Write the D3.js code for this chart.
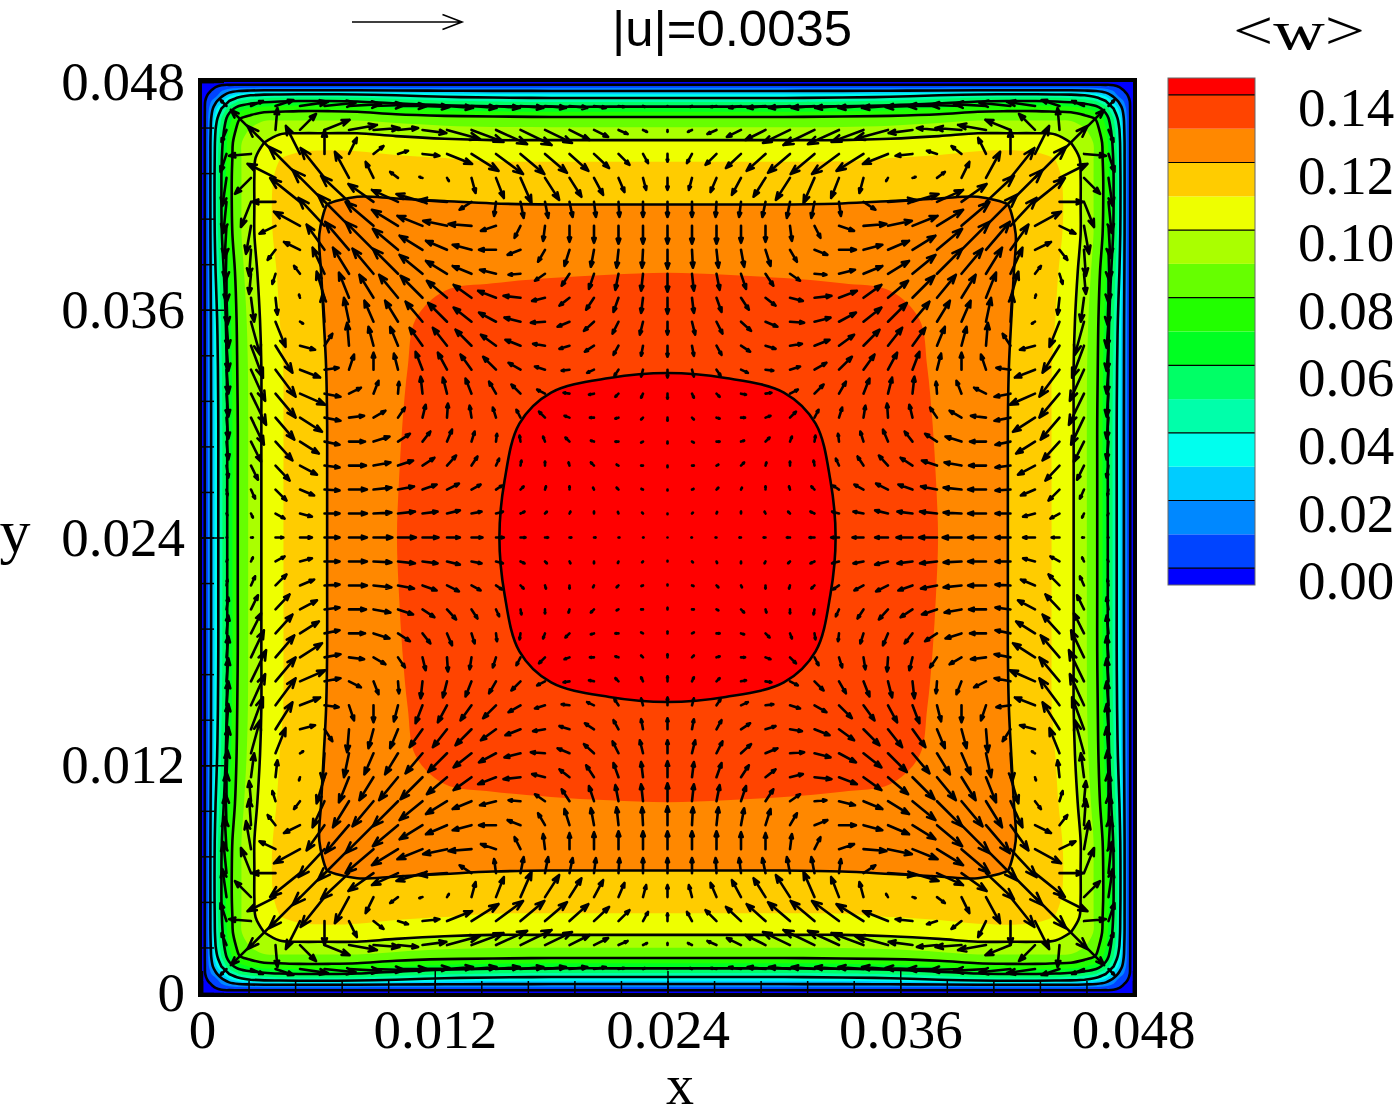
<!DOCTYPE html>
<html>
<head>
<meta charset="utf-8">
<script src="https://d3js.org/d3.v7.min.js"></script>
<style>
    body { margin: 0; background: #fff; }
    svg { display: block; }
    .tick text { font-family: "Liberation Serif", "DejaVu Serif", serif; }
</style>
</head>
<body>
<svg width="1400" height="1120"></svg>
<script>

// contour mesh nodes: distance from a wall in mm (half of the 48 mm duct)
var nodesMm = [0, 0.15, 0.4, 0.7, 1.0, 1.4, 1.9, 2.5, 3.2, 4.0, 5.0, 6.5, 8.0, 10, 12.5, 15, 18, 21, 24];

// <w>, one octant of the duct:
// row j -> distance nodesMm[j] from one wall, entry i -> distance nodesMm[i] from the other (i <= j)
var wRows = [
    [0],
    [0, 0.0003],
    [0, 0.0013, 0.0035],
    [0, 0.0032, 0.007, 0.011],
    [0, 0.0045, 0.012, 0.022, 0.032],
    [0, 0.0050, 0.017, 0.032, 0.045, 0.060],
    [0, 0.0052, 0.020, 0.040, 0.055, 0.070, 0.084],
    [0, 0.0052, 0.021, 0.045, 0.059, 0.076, 0.089, 0.096],
    [0, 0.0052, 0.022, 0.048, 0.062, 0.080, 0.093, 0.101, 0.105],
    [0, 0.0052, 0.022, 0.049, 0.064, 0.081, 0.093, 0.102, 0.110, 0.1148],
    [0, 0.0052, 0.022, 0.050, 0.065, 0.082, 0.093, 0.102, 0.1125, 0.1165, 0.1205],
    [0, 0.0052, 0.022, 0.050, 0.065, 0.082, 0.093, 0.102, 0.1125, 0.1175, 0.1215, 0.1252],
    [0, 0.0052, 0.022, 0.049, 0.064, 0.081, 0.093, 0.102, 0.1125, 0.1170, 0.1215, 0.1265, 0.1285],
    [0, 0.0052, 0.0215, 0.045, 0.060, 0.076, 0.091, 0.100, 0.110, 0.1162, 0.1212, 0.1262, 0.1292, 0.1325],
    [0, 0.0052, 0.021, 0.041, 0.056, 0.072, 0.089, 0.098, 0.108, 0.1150, 0.1205, 0.1258, 0.1293, 0.1335, 0.1372],
    [0, 0.0052, 0.021, 0.039, 0.054, 0.070, 0.088, 0.097, 0.107, 0.1140, 0.1195, 0.1254, 0.1294, 0.1340, 0.1381, 0.1415],
    [0, 0.0052, 0.021, 0.038, 0.053, 0.069, 0.087, 0.097, 0.107, 0.1140, 0.1190, 0.1252, 0.1296, 0.1344, 0.1389, 0.1440, 0.1462],
    [0, 0.0052, 0.021, 0.038, 0.053, 0.069, 0.087, 0.097, 0.107, 0.1140, 0.1190, 0.1252, 0.1297, 0.1347, 0.1395, 0.1444, 0.1474, 0.1497],
    [0, 0.0052, 0.021, 0.038, 0.053, 0.069, 0.087, 0.097, 0.107, 0.1140, 0.1190, 0.1252, 0.1298, 0.1349, 0.1398, 0.1446, 0.1482, 0.1505, 0.1515]
];

// secondary velocity (units of 1e-4 m/s) on the 39x39 vector mesh, octant next to the top wall
// of the upper-left quarter: row r = 1..19 from the wall, entries for columns c = r..19,
// each [along the wall (to the right), toward the core (downward)]
var vecRows = [
    [[-1.9,-1.9],[3.8,-1.6],[5.7,-1.9],[8.9,-1.3],[9.9,-1.0],[10.2,-0.6],[9.9,-0.3],[9.2,0],[8.6,0.3],[8.3,0.6],[8.0,0.6],[7.6,0.6],[7.3,0.6],[6.7,0.6],[5.7,0.6],[3.8,0.6],[1.9,0.3],[0.6,0.3],[0,0.2]],
    [[-6.4,-6.4],[0.6,-7.0],[5.1,-5.1],[8.0,-3.2],[8.9,-1.6],[8.3,-0.6],[6.4,-0.6],[7.6,1.0],[10.5,2.9],[10.2,3.8],[9.9,4.5],[9.9,4.8],[8.6,4.1],[6.4,3.2],[4.5,2.2],[2.9,1.3],[1.3,0.6],[0,0.6]],
    [[-8.9,-8.9],[-4.5,-8.9],[0,-7.6],[2.5,-5.1],[3.2,-2.5],[3.2,-1.0],[5.4,0.6],[8.0,3.2],[8.6,5.4],[8.6,6.4],[7.6,6.4],[7.0,6.0],[6.0,5.4],[4.8,4.5],[3.5,3.5],[1.6,2.9],[0,2.5]],
    [[-9.9,-9.9],[-7.6,-9.5],[-4.5,-8.3],[-2.5,-5.1],[-2.5,-1.9],[-1.0,-0.3],[0.6,1.0],[1.3,4.8],[2.5,6.4],[3.5,8.0],[4.5,7.0],[3.8,6.0],[2.9,5.4],[1.9,4.5],[1.0,3.8],[0,3.8]],
    [[-10.2,-10.2],[-8.9,-8.3],[-8.0,-5.7],[-8.3,-3.8],[-8.3,-2.5],[-8.9,-0.6],[-3.8,2.5],[-0.6,4.5],[1.0,5.1],[1.0,5.1],[1.0,4.8],[0.6,4.8],[0.3,4.8],[0,4.8],[0,4.8]],
    [[-9.9,-9.9],[-8.9,-7.6],[-8.3,-5.1],[-8.0,-3.2],[-7.6,-1.6],[-7.3,-0.6],[-4.8,1.6],[-1.9,3.8],[-0.6,4.8],[0,5.1],[0,5.4],[0,5.7],[0,5.7],[0,5.7]],
    [[-8.9,-8.9],[-8.0,-6.7],[-7.3,-4.5],[-6.7,-2.9],[-6.0,-1.6],[-5.4,0],[-4.1,1.6],[-2.2,3.8],[-1.6,5.1],[-1.0,5.4],[-0.6,5.7],[-0.3,5.7],[0,6.0]],
    [[-8.0,-8.0],[-7.3,-6.0],[-6.7,-4.1],[-6.0,-2.5],[-5.1,-1.3],[-3.8,0.3],[-3.2,2.2],[-2.5,3.8],[-1.6,4.8],[-1.0,5.1],[-0.6,5.4],[0,5.7]],
    [[-7.0,-7.0],[-6.4,-5.4],[-5.7,-4.1],[-5.7,-2.2],[-5.4,-0.6],[-4.1,1.0],[-3.2,2.5],[-2.5,3.8],[-1.6,4.5],[-0.6,4.8],[0,5.1]],
    [[-6.0,-6.0],[-5.7,-4.5],[-5.4,-2.9],[-5.1,-1.3],[-4.5,0.3],[-3.8,1.6],[-3.2,2.9],[-1.9,3.8],[-1.0,4.1],[0,4.1]],
    [[-5.1,-5.1],[-4.8,-3.5],[-4.8,-1.9],[-3.8,-0.6],[-3.2,1.0],[-2.9,1.9],[-1.6,2.9],[-0.6,3.2],[0,3.5]],
    [[-4.1,-4.1],[-3.8,-2.2],[-3.2,-1.0],[-2.5,0.3],[-2.2,1.0],[-1.3,1.9],[-0.6,2.2],[0,2.5]],
    [[-2.9,-2.9],[-2.5,-1.3],[-1.9,-0.3],[-1.6,0.3],[-1.0,1.0],[-0.6,1.3],[0,1.6]],
    [[-1.9,-1.9],[-1.6,-0.6],[-1.3,0],[-1.0,0.3],[-0.6,0.6],[0,1.0]],
    [[-1.3,-1.3],[-1.0,-0.3],[-1.0,0],[-0.6,0.3],[0,0.6]],
    [[-1.0,-1.0],[-0.6,-0.3],[-0.6,0],[0,0.5]],
    [[-0.6,-0.6],[-0.5,-0.2],[0,0.3]],
    [[-0.3,-0.3],[0,0.2]],
    [[0,0]]
];

var levels = [0.005, 0.015, 0.025, 0.035, 0.045, 0.055, 0.065, 0.075, 0.085, 0.095, 0.105, 0.115, 0.125, 0.135, 0.145];
var lineLevels = [0.005, 0.025, 0.045, 0.065, 0.085, 0.105, 0.125, 0.145];
var legendValues = [0, 0.02, 0.04, 0.06, 0.08, 0.10, 0.12, 0.14];
var axisTicks = [0, 0.012, 0.024, 0.036, 0.048];
var refSpeed = 0.0035;

var bandColors = ["#0000ff", "#0044ff", "#0088ff", "#00ccff", "#00ffee", "#00ffaa", "#00ff66", "#00ff22",
                  "#22ff00", "#66ff00", "#aaff00", "#eeff00", "#ffcc00", "#ff8800", "#ff4400", "#ff0000"];

var svg = d3.select("svg");
var serif = '"Liberation Serif", "DejaVu Serif", serif';

var W = 0.048;
var x = d3.scaleLinear().domain([0, W]).range([202, 1133]);
var y = d3.scaleLinear().domain([0, W]).range([993, 82]);

svg.append("clipPath").attr("id", "plotClip")
    .append("rect").attr("x", 202).attr("y", 82).attr("width", 931).attr("height", 911);

var field = svg.append("g").attr("clip-path", "url(#plotClip)");

field.append("rect")
    .attr("x", 202).attr("y", 82).attr("width", 931).attr("height", 911)
    .attr("fill", bandColors[0]);

//
// contour field on the non-uniform mesh
//

var half = nodesMm.length - 1;
var nodes = nodesMm.concat(nodesMm.slice(0, half).reverse().map(d => 48 - d)).map(d => d / 1000);
var n = nodes.length;

var values = new Array(n * n);
for (var iy = 0; iy < n; iy++) {
    for (var ix = 0; ix < n; ix++) {
        var a = Math.min(ix, n - 1 - ix), b = Math.min(iy, n - 1 - iy);
        values[iy * n + ix] = wRows[Math.max(a, b)][Math.min(a, b)];
    }
}

var nodeScale = d3.scaleLinear().domain(d3.range(n)).range(nodes).clamp(true);

var contours = d3.contours().size([n, n]).thresholds(levels)(values);

var ringLine = d3.line().curve(d3.curveCatmullRomClosed.alpha(0.5));

function ringPath(ring) {
    var pts = ring.slice(0, -1).map(p => [x(nodeScale(p[0] - 0.5)), y(nodeScale(p[1] - 0.5))]);
    return ringLine(pts);
}

function multiPath(c) {
    return c.coordinates.map(poly => poly.map(ringPath).join("")).join("");
}

field.selectAll(".band")
    .data(contours)
    .enter().append("path")
    .attr("class", "band")
    .attr("d", multiPath)
    .attr("fill", (d, i) => bandColors[i + 1]);

field.selectAll(".cline")
    .data(contours.filter(c => lineLevels.some(l => Math.abs(l - c.value) < 1e-9)))
    .enter().append("path")
    .attr("class", "cline")
    .attr("d", multiPath)
    .attr("fill", "none")
    .attr("stroke", "#000")
    .attr("stroke-width", 2.6);

//
// secondary flow vectors
//

var nv = 39, mid = 19;
var pxPerSpeed = 110 / refSpeed;
var arrows = [];
for (var i = 0; i < nv; i++) {
    for (var k = 0; k < nv; k++) {
        var c = Math.min(i, nv - 1 - i), r = Math.min(k, nv - 1 - k);
        if (c === 0 || r === 0) continue;
        var e, dx, dy;
        if (r <= c) { e = vecRows[r - 1][c - r]; dx = e[0]; dy = e[1]; }
        else { e = vecRows[c - 1][r - c]; dx = e[1]; dy = e[0]; }
        if (i > mid) dx = -dx;
        if (k > mid) dy = -dy;
        arrows.push({
            x0: x(i * W / (nv - 1)),
            y0: y(W - k * W / (nv - 1)),
            dx: dx * 1e-4 * pxPerSpeed,
            dy: dy * 1e-4 * pxPerSpeed
        });
    }
}

function arrowPath(x0, y0, dx, dy, frac, ang) {
    var x1 = x0 + dx, y1 = y0 + dy;
    var L = Math.sqrt(dx * dx + dy * dy);
    if (L < 0.01) return "M" + x0 + "," + y0 + "L" + x0 + "," + y0;
    var t = Math.atan2(dy, dx), h = L * frac;
    var ax = x1 - h * Math.cos(t - ang), ay = y1 - h * Math.sin(t - ang);
    var bx = x1 - h * Math.cos(t + ang), by = y1 - h * Math.sin(t + ang);
    return "M" + x0 + "," + y0 + "L" + x1 + "," + y1 +
        "M" + ax + "," + ay + "L" + x1 + "," + y1 + "L" + bx + "," + by;
}

field.append("g")
    .selectAll("path")
    .data(arrows)
    .enter().append("path")
    .attr("d", d => arrowPath(d.x0, d.y0, d.dx, d.dy, 0.3, 20 * Math.PI / 180))
    .attr("fill", "none")
    .attr("stroke", "#000")
    .attr("stroke-width", 2.6)
    .attr("stroke-linecap", "round")
    .attr("stroke-linejoin", "round");

//
// axes with inward ticks
//

var minorTicks = d3.range(0, 0.04801, 0.0024);
var fmt = d => d === 0 ? "0" : d3.format(".3f")(d);

function styleAxis(g) {
    g.select(".domain").remove();
    g.selectAll(".tick line").attr("stroke", "#000").attr("stroke-width", 1.5);
    g.selectAll(".tick text").attr("fill", "#000").style("font-size", "55px");
}

svg.append("g").attr("transform", "translate(0,993)")
    .call(d3.axisBottom(x).tickValues(minorTicks).tickSize(-12).tickFormat(""))
    .call(styleAxis);
svg.append("g").attr("transform", "translate(202,0)")
    .call(d3.axisLeft(y).tickValues(minorTicks).tickSize(-12).tickFormat(""))
    .call(styleAxis);

svg.append("g").attr("transform", "translate(0,993)")
    .call(d3.axisBottom(x).tickValues(axisTicks).tickSize(-22).tickPadding(16).tickFormat(fmt))
    .call(styleAxis);
svg.append("g").attr("transform", "translate(202,0)")
    .call(d3.axisLeft(y).tickValues(axisTicks).tickSize(-22).tickPadding(17).tickFormat(fmt))
    .call(styleAxis);

// frame
svg.append("rect")
    .attr("x", 200).attr("y", 80).attr("width", 935).attr("height", 915)
    .attr("fill", "none").attr("stroke", "#000").attr("stroke-width", 4);

svg.append("text").attr("x", 680).attr("y", 1104)
    .attr("text-anchor", "middle").style("font-family", serif).style("font-size", "56px")
    .text("x");
svg.append("text").attr("x", 15).attr("y", 552)
    .attr("text-anchor", "middle").style("font-family", serif).style("font-size", "62px")
    .text("y");

//
// reference vector
//

svg.append("path")
    .attr("d", arrowPath(352, 22, refSpeed * pxPerSpeed, 0, 0.19, 21 * Math.PI / 180))
    .attr("fill", "none").attr("stroke", "#000").attr("stroke-width", 1.6);

svg.append("text").attr("x", 612).attr("y", 46)
    .attr("textLength", 240).attr("lengthAdjust", "spacingAndGlyphs")
    .style("font-family", '"Liberation Sans", Arial, sans-serif').style("font-size", "50px")
    .text("|u|=0.0035");

//
// legend
//

var cb = d3.scaleLinear().domain([0, 0.15]).range([585, 78]);
var legend = svg.append("g");

legend.selectAll(".lb")
    .data(bandColors)
    .enter().append("rect")
    .attr("class", "lb")
    .attr("x", 1168).attr("width", 87)
    .attr("y", (d, k) => cb(Math.min(0.15, 0.01 * k + 0.005)))
    .attr("height", (d, k) => cb(Math.max(0, 0.01 * k - 0.005)) - cb(Math.min(0.15, 0.01 * k + 0.005)))
    .attr("fill", d => d);

legend.selectAll(".ll")
    .data(lineLevels)
    .enter().append("line")
    .attr("x1", 1168).attr("x2", 1255)
    .attr("y1", d => cb(d)).attr("y2", d => cb(d))
    .attr("stroke", "#000").attr("stroke-width", 1.2);

legend.append("rect")
    .attr("x", 1168).attr("y", 78).attr("width", 87).attr("height", 507)
    .attr("fill", "none").attr("stroke", "#666").attr("stroke-width", 1);

legend.selectAll(".lt")
    .data(legendValues)
    .enter().append("text")
    .attr("x", 1298).attr("y", d => cb(d) - 5)
    .attr("dy", "0.35em")
    .style("font-family", serif).style("font-size", "55px")
    .text(d => d3.format(".2f")(d));

svg.append("text").attr("x", 1299).attr("y", 49)
    .attr("text-anchor", "middle")
    .attr("textLength", 132).attr("lengthAdjust", "spacingAndGlyphs")
    .style("font-family", serif).style("font-size", "54px")
    .text("<w>");

</script>
</body>
</html>
